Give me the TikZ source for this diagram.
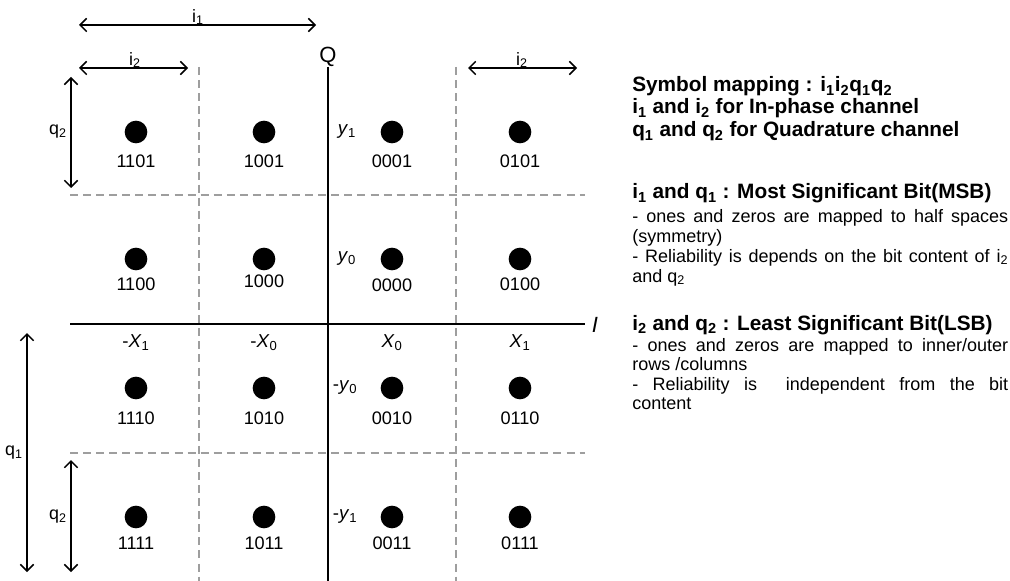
\documentclass[tikz,border=0pt]{standalone}
\usepackage{fontspec}
\setmainfont{Liberation Sans}
\usetikzlibrary{arrows.meta}
\newcommand\sbs[1]{\textsubscript{#1}}
\begin{document}
\begin{tikzpicture}[x=0.75pt,y=-0.75pt,
  dot/.style={circle,fill=black,inner sep=0pt,minimum size=17pt},
  code/.style={inner sep=0pt,font=\fontsize{13.6}{15}\selectfont},
  axlab/.style={inner sep=0pt,font=\fontsize{14}{16}\selectfont},
  dimlab/.style={inner sep=0pt,font=\fontsize{13.4}{15}\selectfont},
  gridline/.style={draw=black!38,line width=1pt,dash pattern=on 6pt off 3.8pt},
  axisline/.style={line width=1.5pt},
  dimarrow/.style={line width=1.1pt,
    {Straight Barb[length=5pt,width=10pt]}-{Straight Barb[length=5pt,width=10pt]}},
  axname/.style={inner sep=0pt,font=\fontsize{16.5}{18}\selectfont},
  head/.style={anchor=base west,inner sep=0pt,font=\fontsize{15.6}{18}\selectfont\bfseries},
  body/.style={anchor=base west,inner sep=0pt,font=\fontsize{13.5}{16}\selectfont},
]
\useasboundingbox (0,0) rectangle (1010,581);

% decision boundaries
\draw[gridline] (199,67) -- (199,581);
\draw[gridline] (456,67) -- (456,581);
\draw[gridline] (70,195) -- (585,195);
\draw[gridline] (70,453) -- (585,453);

% axes
\coordinate (qtop) at (328,67);
\coordinate (qbot) at (328,581);
\coordinate (ileft) at (70,324);
\coordinate (iright) at (585,324);
\draw[axisline] (qtop) -- (qbot);
\draw[axisline] (ileft) -- (iright);
\node[axname] (Q) at (328,57) {Q};
\node[axname,font=\fontsize{16.5}{18}\selectfont\itshape] (I) at (595,325) {I};

% constellation points
\foreach \c/\x/\y/\ly in {
  1101/136/132/161, 1001/264/132/161, 0001/392/132/161, 0101/520/132/161,
  1100/136/259/284, 1000/264/259/281, 0000/392/259/285, 0100/520/259/284,
  1110/136/388/418, 1010/264/388/418, 0010/392/388/418, 0110/520/388/418,
  1111/136/517/543, 1011/264/517/543, 0011/392/517/543, 0111/520/517/543}{
  \node[dot] (d\c) at (\x,\y) {};
  \node[code] (t\c) at (\x,\ly) {\c};
}

% amplitude levels
\node[axlab] (mX1) at (136,343) {-\textit{X}\sbs{1}};
\node[axlab] (mX0) at (264,343) {-\textit{X}\sbs{0}};
\node[axlab] (pX0) at (392,343) {\textit{X}\sbs{0}};
\node[axlab] (pX1) at (520,343) {\textit{X}\sbs{1}};
\node[axlab] (py1) at (347,132) {\textit{y}\sbs{1}};
\node[axlab] (py0) at (347,259) {\textit{y}\sbs{0}};
\node[axlab] (my0) at (345,388) {-\textit{y}\sbs{0}};
\node[axlab] (my1) at (345,517) {-\textit{y}\sbs{1}};

% bit span arrows
\coordinate (i1a) at (79,25);   \coordinate (i1b) at (316,25);
\coordinate (i2a) at (79,68);   \coordinate (i2b) at (188,68);
\coordinate (i2c) at (468,68);  \coordinate (i2d) at (577,68);
\coordinate (q2a) at (71,77);   \coordinate (q2b) at (71,188);
\coordinate (q1a) at (27,333);  \coordinate (q1b) at (27,572);
\coordinate (q2c) at (71,460);  \coordinate (q2d) at (71,572);
\draw[dimarrow] (i1a) -- (i1b);
\draw[dimarrow] (i2a) -- (i2b);
\draw[dimarrow] (i2c) -- (i2d);
\draw[dimarrow] (q2a) -- (q2b);
\draw[dimarrow] (q1a) -- (q1b);
\draw[dimarrow] (q2c) -- (q2d);
\node[dimlab] (li1) at (198,17) {i\sbs{1}};
\node[dimlab] (li2a) at (135,60) {i\sbs{2}};
\node[dimlab] (li2b) at (522,60) {i\sbs{2}};
\node[dimlab] (lq2a) at (58,132) {q\sbs{2}};
\node[dimlab] (lq1) at (14,453) {q\sbs{1}};
\node[dimlab] (lq2b) at (58,517) {q\sbs{2}};

% explanation
\node[head] (m1) at (632,92)  {Symbol mapping : i\sbs{1}i\sbs{2}q\sbs{1}q\sbs{2}};
\node[head] (m2) at (632,114) {i\sbs{1} and i\sbs{2} for In-phase channel};
\node[head] (m3) at (632,137) {q\sbs{1} and q\sbs{2} for Quadrature channel};

\node[head] (h1) at (632,199) {i\sbs{1} and q\sbs{1} : Most Significant Bit(MSB)};
\node[body] (b1) at (632,223) {\makebox[282pt][s]{- ones and zeros are mapped to half spaces}};
\node[body] (b2) at (632,243) {(symmetry)};
\node[body] (b3) at (632,262) {\makebox[282pt][s]{- Reliability is depends on the bit content of i\sbs{2}}};
\node[body] (b4) at (632,282) {and q\sbs{2}};

\node[head] (h2) at (632,330) {i\sbs{2} and q\sbs{2} : Least Significant Bit(LSB)};
\node[body] (b5) at (632,351) {\makebox[282pt][s]{- ones and zeros are mapped to inner/outer}};
\node[body] (b6) at (632,370) {rows /columns};
\node[body] (b7) at (632,390) {\makebox[282pt][s]{- Reliability is\ \ independent from the bit}};
\node[body] (b8) at (632,409) {content};
\end{tikzpicture}
\end{document}
